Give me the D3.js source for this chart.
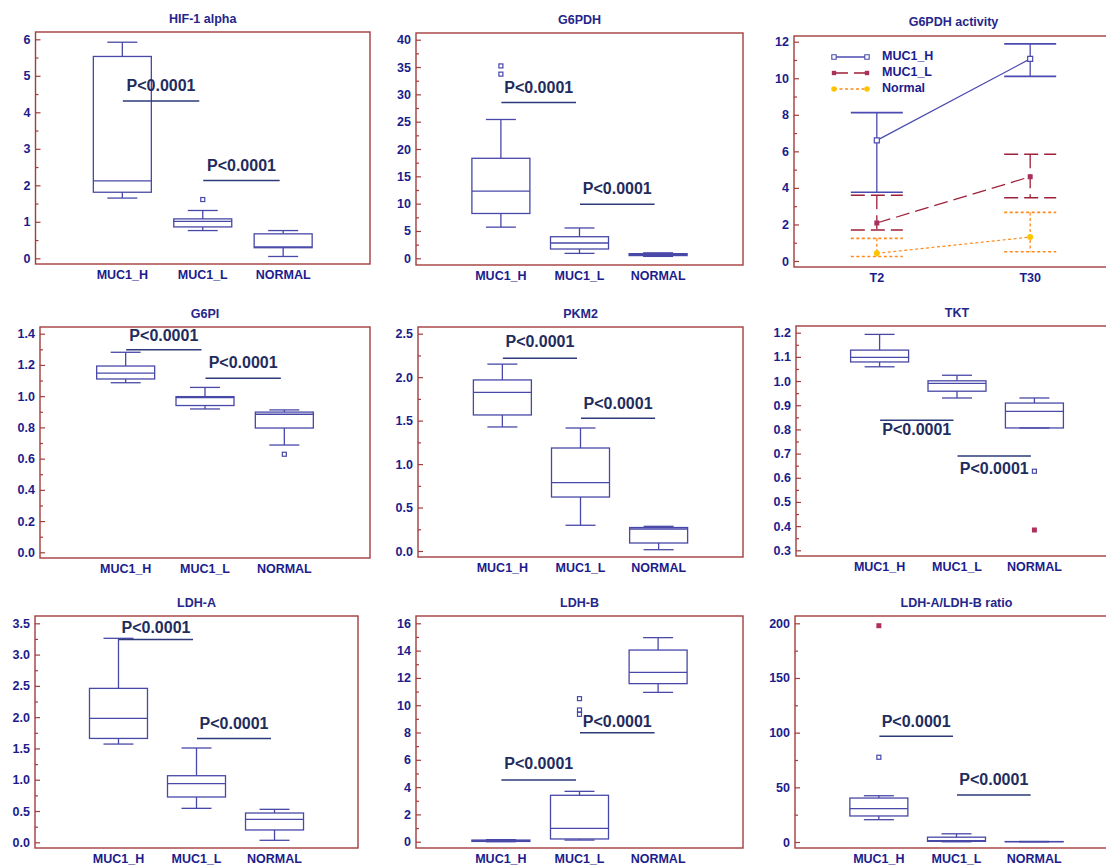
<!DOCTYPE html>
<html>
<head>
<meta charset="utf-8">
<script src="https://cdn.jsdelivr.net/npm/d3@7"></script>
<style>
  html, body { margin: 0; padding: 0; background: #ffffff; }
  svg { display: block; font-family: "Liberation Sans", Arial, sans-serif; }
</style>
</head>
<body>
<script>
// ---- data -------------------------------------------------------------
const groups = ["MUC1_H", "MUC1_L", "NORMAL"];
const pLabel = "P<0.0001";

// five-number summaries per group: [lower whisker, Q1, median, Q3, upper whisker]
const hifStats = [[1.65, 1.81, 2.12, 5.53, 5.92], [0.76, 0.86, 1.01, 1.08, 1.31], [0.05, 0.29, 0.31, 0.67, 0.76]];
const hifOutliers = [[], [1.61], []];
const hifFar = [[], [], []];
const hifP = [{ from: "MUC1_H", to: "MUC1_L", level: 4.31 }, { from: "MUC1_L", to: "NORMAL", level: 2.13 }];

const g6pdhStats = [[5.7, 8.2, 12.3, 18.3, 25.4], [0.9, 1.7, 2.8, 3.95, 5.55], [0.35, 0.5, 0.7, 0.85, 1.0]];
const g6pdhOutliers = [[35.2, 33.7], [], []];
const g6pdhFar = [[], [], []];
const g6pdhP = [{ from: "MUC1_H", to: "MUC1_L", level: 28.5 }, { from: "MUC1_L", to: "NORMAL", level: 9.9 }];

const g6piStats = [[1.086, 1.11, 1.147, 1.193, 1.281], [0.918, 0.94, 0.99, 0.997, 1.056], [0.687, 0.796, 0.884, 0.898, 0.912]];
const g6piOutliers = [[], [], [0.628]];
const g6piFar = [[], [], []];
const g6piP = [{ from: "MUC1_H", to: "MUC1_L", level: 1.298 }, { from: "MUC1_L", to: "NORMAL", level: 1.115 }];

const pkm2Stats = [[1.427, 1.565, 1.826, 1.968, 2.15], [0.296, 0.621, 0.786, 1.185, 1.415], [0.015, 0.092, 0.253, 0.27, 0.284]];
const pkm2Outliers = [[], [], []];
const pkm2Far = [[], [], []];
const pkm2P = [{ from: "MUC1_H", to: "MUC1_L", level: 2.217 }, { from: "MUC1_L", to: "NORMAL", level: 1.527 }];

const tktStats = [[1.059, 1.079, 1.098, 1.128, 1.193], [0.93, 0.958, 0.99, 1.001, 1.024], [0.806, 0.806, 0.875, 0.909, 0.93]];
const tktOutliers = [[], [], [0.627]];
const tktFar = [[], [], [0.384]];
const tktP = [{ from: "MUC1_H", to: "MUC1_L", level: 0.838 }, { from: "MUC1_L", to: "NORMAL", level: 0.69 }];

const ldhaStats = [[1.57, 1.66, 1.98, 2.46, 3.26], [0.543, 0.724, 0.937, 1.064, 1.507], [0.032, 0.197, 0.367, 0.468, 0.527]];
const ldhaOutliers = [[], [], []];
const ldhaFar = [[], [], []];
const ldhaP = [{ from: "MUC1_H", to: "MUC1_L", level: 3.24 }, { from: "MUC1_L", to: "NORMAL", level: 1.66 }];

const ldhbStats = [[0.0, 0.02, 0.05, 0.12, 0.15], [0.12, 0.2, 0.98, 3.4, 3.69], [10.94, 11.58, 12.41, 14.04, 14.95]];
const ldhbOutliers = [[], [10.48, 9.65, 9.33], []];
const ldhbFar = [[], [], []];
const ldhbP = [{ from: "MUC1_H", to: "MUC1_L", level: 4.52 }, { from: "MUC1_L", to: "NORMAL", level: 7.99 }];

const ratioStats = [[20.4, 23.8, 30.5, 40.2, 42.3], [0.2, 0.6, 1.3, 4.4, 7.5], [0.2, 0.25, 0.3, 0.4, 0.5]];
const ratioOutliers = [[77.5], [], []];
const ratioFar = [[197.8], [], []];
const ratioP = [{ from: "MUC1_H", to: "MUC1_L", level: 96.7 }, { from: "MUC1_L", to: "NORMAL", level: 43 }];

// G6PDH activity: mean with lower / upper error limits at each time point
const timepoints = ["T2", "T30"];
const activitySeries = ["MUC1_H", "MUC1_L", "Normal"];
const activityMean = [[6.6, 11.06], [2.08, 4.61], [0.42, 1.31]];
const activityUpper = [[8.12, 11.88], [3.6, 5.84], [1.24, 2.66]];
const activityLower = [[3.76, 10.1], [1.7, 3.46], [0.25, 0.51]];

// ---- styling ------------------------------------------------------------
const FRAME = "#a33c3c";
const NAVY = "#1c1c8c";
const BOX = "#4848a8";
const PTEXT = "#1f2d5e";
const PLINE = "#2d3b7a";
const FAR = "#b0305a";

const svg = d3.select("body").append("svg")
  .attr("width", 1106).attr("height", 866);

function drawFrame(g, f) {
  g.append("rect")
    .attr("x", f[0]).attr("y", f[1])
    .attr("width", f[2] - f[0]).attr("height", f[3] - f[1])
    .attr("fill", "none").attr("stroke", FRAME).attr("stroke-width", 1.4);
}

function drawYAxis(g, y, f, major, minor, fmt) {
  const [d0, d1] = y.domain();
  const eps = 1e-9;
  const minorVals = d3.range(d0, d1 + eps, minor).filter(v => Math.abs(v / major - Math.round(v / major)) > 1e-6);
  const majorVals = d3.range(d0, d1 + eps, major);
  const minorAx = g.append("g").attr("transform", `translate(${f[0]},0)`)
    .call(d3.axisLeft(y).tickValues(minorVals).tickSize(-3).tickFormat(""));
  const majorAx = g.append("g").attr("transform", `translate(${f[0]},0)`)
    .call(d3.axisLeft(y).tickValues(majorVals).tickSize(-5).tickPadding(5).tickFormat(d3.format(fmt)));
  [minorAx, majorAx].forEach(ax => {
    ax.select(".domain").remove();
    ax.selectAll("line").attr("stroke", FRAME).attr("stroke-width", 1.2);
  });
  majorAx.selectAll("text")
    .attr("fill", NAVY).attr("font-size", 12.5).attr("font-weight", "bold");
}

function drawTitle(g, x, y, text) {
  g.append("text").attr("x", x).attr("y", y).attr("text-anchor", "middle")
    .attr("dominant-baseline", "middle").attr("font-size", 12.5).attr("font-weight", "bold")
    .attr("fill", "#26268a").text(text);
}

function drawCategories(g, x, labels, yPos) {
  g.selectAll("text.cat").data(labels).join("text").attr("class", "cat")
    .attr("x", d => x(d)).attr("y", yPos)
    .attr("text-anchor", "middle").attr("dominant-baseline", "middle")
    .attr("font-size", 12.5).attr("font-weight", "bold").attr("fill", NAVY)
    .text(d => d);
}

function boxPanel(p) {
  const g = svg.append("g");
  const f = p.frame;
  const x = d3.scalePoint().domain(groups).range([f[0], f[2]]).padding(p.pad);
  const y = d3.scaleLinear().domain(p.domain).range(p.yRange);
  drawFrame(g, f);
  drawYAxis(g, y, f, p.major, p.minor, p.fmt);
  drawTitle(g, x(groups[1]), f[1] - 12, p.title);
  drawCategories(g, x, groups, f[3] + 12);

  const boxW = 58, capW = 30;
  const boxes = g.selectAll("g.box").data(groups).join("g").attr("class", "box")
    .attr("fill", "none").attr("stroke", BOX).attr("stroke-width", 1.3);
  boxes.each(function (grp, i) {
    const s = p.stats[i];
    const cx = x(grp);
    const b = d3.select(this);
    // whiskers
    b.append("line").attr("x1", cx).attr("x2", cx).attr("y1", y(s[0])).attr("y2", y(s[1]));
    b.append("line").attr("x1", cx).attr("x2", cx).attr("y1", y(s[3])).attr("y2", y(s[4]));
    b.append("line").attr("x1", cx - capW / 2).attr("x2", cx + capW / 2).attr("y1", y(s[0])).attr("y2", y(s[0]));
    b.append("line").attr("x1", cx - capW / 2).attr("x2", cx + capW / 2).attr("y1", y(s[4])).attr("y2", y(s[4]));
    // box and median
    b.append("rect").attr("x", cx - boxW / 2).attr("width", boxW)
      .attr("y", y(s[3])).attr("height", Math.max(0.01, y(s[1]) - y(s[3])));
    b.append("line").attr("x1", cx - boxW / 2).attr("x2", cx + boxW / 2).attr("y1", y(s[2])).attr("y2", y(s[2]));
    // outliers
    b.selectAll("rect.out").data(p.outliers[i]).join("rect").attr("class", "out")
      .attr("x", cx - 2).attr("y", d => y(d) - 2).attr("width", 4).attr("height", 4)
      .attr("fill", "#fff").attr("stroke", BOX).attr("stroke-width", 1.2);
    b.selectAll("rect.far").data(p.far[i]).join("rect").attr("class", "far")
      .attr("x", cx - 2.5).attr("y", d => y(d) - 2.5).attr("width", 5).attr("height", 5)
      .attr("fill", FAR).attr("stroke", "none");
  });

  // significance bars
  p.pvals.forEach((pv, k) => {
    const x1 = x(pv.from) + 0.5, x2 = x(pv.to) - 3.5;
    const ly = y(pv.level);
    g.append("line").attr("x1", x1).attr("x2", x2).attr("y1", ly).attr("y2", ly)
      .attr("stroke", PLINE).attr("stroke-width", 1.5);
    g.append("text").attr("x", (x1 + x2) / 2).attr("y", ly + p.textDy[k])
      .attr("text-anchor", "middle").attr("dominant-baseline", "middle")
      .attr("font-size", 16).attr("font-weight", "bold").attr("fill", PTEXT)
      .text(pLabel);
  });
}

const panels = [
  { title: "HIF-1 alpha", frame: [35.5, 32, 370, 264], pad: 1.08, domain: [0, 6], yRange: [258.3, 39.3], major: 1, minor: 0.5, fmt: "d",
    stats: hifStats, outliers: hifOutliers, far: hifFar, pvals: hifP, textDy: [-14, -14] },
  { title: "G6PDH", frame: [416, 33, 743, 265], pad: 1.08, domain: [0, 40], yRange: [258.3, 39.7], major: 5, minor: 2.5, fmt: "d",
    stats: g6pdhStats, outliers: g6pdhOutliers, far: g6pdhFar, pvals: g6pdhP, textDy: [-14, -14] },
  { title: "G6PI", frame: [40, 327, 370, 558], pad: 1.08, domain: [0, 1.4], yRange: [552.3, 333.7], major: 0.2, minor: 0.1, fmt: ".1f",
    stats: g6piStats, outliers: g6piOutliers, far: g6piFar, pvals: g6piP, textDy: [-13, -14.3] },
  { title: "PKM2", frame: [418, 327, 743, 557], pad: 1.08, domain: [0, 2.5], yRange: [551, 333.7], major: 0.5, minor: 0.25, fmt: ".1f",
    stats: pkm2Stats, outliers: pkm2Outliers, far: pkm2Far, pvals: pkm2P, textDy: [-16, -13] },
  { title: "TKT", frame: [796, 326, 1118, 556], pad: 1.08, domain: [0.3, 1.2], yRange: [550.3, 332.7], major: 0.1, minor: 0.05, fmt: ".1f",
    stats: tktStats, outliers: tktOutliers, far: tktFar, pvals: tktP, textDy: [10.5, 14] },
  { title: "LDH-A", frame: [35, 616, 358, 848], pad: 1.07, domain: [0, 3.5], yRange: [842.3, 623.3], major: 0.5, minor: 0.25, fmt: ".1f",
    stats: ldhaStats, outliers: ldhaOutliers, far: ldhaFar, pvals: ldhaP, textDy: [-10.6, -14] },
  { title: "LDH-B", frame: [416, 616, 743, 848], pad: 1.08, domain: [0, 16], yRange: [841.7, 623.3], major: 2, minor: 1, fmt: "d",
    stats: ldhbStats, outliers: ldhbOutliers, far: ldhbFar, pvals: ldhbP, textDy: [-15.7, -10] },
  { title: "LDH-A/LDH-B ratio", frame: [795, 616, 1118, 848], pad: 1.08, domain: [0, 200], yRange: [842, 623.3], major: 50, minor: 25, fmt: "d",
    stats: ratioStats, outliers: ratioOutliers, far: ratioFar, pvals: ratioP, textDy: [-13.6, -14] }
];
panels.forEach(boxPanel);

// ---- G6PDH activity: means with error bars over time -------------------
(function activityPanel() {
  const f = [794, 36, 1113, 267];
  const g = svg.append("g");
  const x = d3.scalePoint().domain(timepoints).range([f[0], f[2]]).padding(0.54);
  const y = d3.scaleLinear().domain([0, 12]).range([261, 41.7]);
  drawFrame(g, f);
  drawYAxis(g, y, f, 2, 1, "d");
  drawTitle(g, (x("T2") + x("T30")) / 2, f[1] - 13, "G6PDH activity");
  drawCategories(g, x, timepoints, f[3] + 11.5);

  const styles = [
    { color: "#4a4ab0", dash: null, marker: "open" },
    { color: "#9e2038", dash: "14,6", marker: "filled" },
    { color: "#ff8a1c", dash: "3,2.5", marker: "dot" }
  ];
  const markerFill = ["#ffffff", "#a8305a", "#ffc400"];
  const capW = 52;
  const line = d3.line().x((d, i) => x(timepoints[i])).y(d => y(d));

  activitySeries.forEach((name, s) => {
    const st = styles[s];
    const sg = g.append("g");
    sg.append("path").datum(activityMean[s]).attr("d", line)
      .attr("fill", "none").attr("stroke", st.color).attr("stroke-width", 1.2)
      .attr("stroke-dasharray", st.dash);
    timepoints.forEach((t, i) => {
      const cx = x(t);
      sg.append("line").attr("x1", cx).attr("x2", cx)
        .attr("y1", y(activityUpper[s][i])).attr("y2", y(activityLower[s][i]))
        .attr("stroke", st.color).attr("stroke-width", 1.3).attr("stroke-dasharray", st.dash);
      [activityUpper[s][i], activityLower[s][i]].forEach(v => {
        sg.append("line").attr("x1", cx - capW / 2).attr("x2", cx + capW / 2)
          .attr("y1", y(v)).attr("y2", y(v))
          .attr("stroke", st.color).attr("stroke-width", 1.6).attr("stroke-dasharray", st.dash);
      });
    });
    sg.selectAll("path.mk").data(activityMean[s]).join("path").attr("class", "mk")
      .attr("transform", (d, i) => `translate(${x(timepoints[i])},${y(d)})`)
      .attr("d", st.marker === "dot" ? d3.symbol(d3.symbolCircle, 28)() : "M-2.5,-2.5h5v5h-5z")
      .attr("fill", markerFill[s]).attr("stroke", st.marker === "open" ? st.color : "none")
      .attr("stroke-width", 1.2);
  });

  // legend
  const lx0 = 834, lx1 = 867, rows = [57, 73, 89];
  activitySeries.forEach((name, s) => {
    const st = styles[s];
    const ly = rows[s];
    g.append("line").attr("x1", lx0).attr("x2", lx1).attr("y1", ly).attr("y2", ly)
      .attr("stroke", st.color).attr("stroke-width", 1.3).attr("stroke-dasharray", st.dash);
    [lx0, lx1].forEach(mx => {
      g.append("path").attr("transform", `translate(${mx},${ly})`)
        .attr("d", st.marker === "dot" ? d3.symbol(d3.symbolCircle, 24)() : "M-2.2,-2.2h4.4v4.4h-4.4z")
        .attr("fill", markerFill[s]).attr("stroke", st.marker === "open" ? st.color : "none")
        .attr("stroke-width", 1.1);
    });
    g.append("text").attr("x", 882).attr("y", ly).attr("dominant-baseline", "middle")
      .attr("font-size", 12.5).attr("font-weight", "bold").attr("fill", NAVY).text(name);
  });
})();
</script>
</body>
</html>
